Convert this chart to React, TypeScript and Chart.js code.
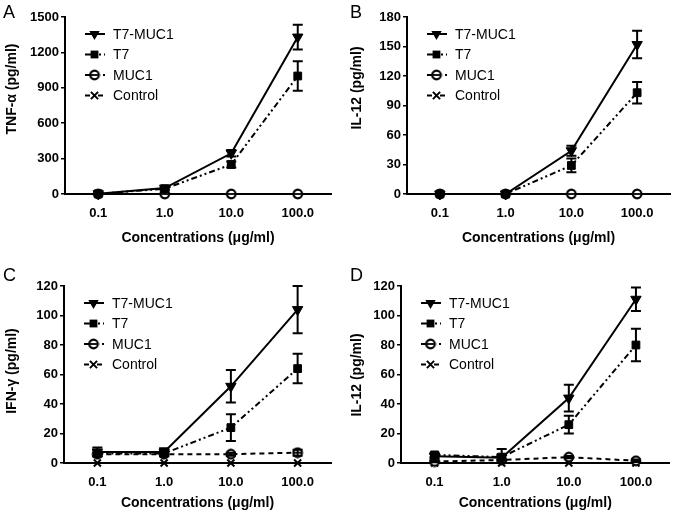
import React, { useEffect, useRef } from 'react';
import { Chart, registerables } from 'chart.js';

Chart.register(...registerables);

const FONT = '"Liberation Sans", Arial, Helvetica, sans-serif';

const categories = ['0.1', '1.0', '10.0', '100.0'];
const seriesNames = ['T7-MUC1', 'T7', 'MUC1', 'Control'];
const xTitle = 'Concentrations (μg/ml)';

// Panel A: TNF-α
const tnfYTicks = [0, 300, 600, 900, 1200, 1500];
const tnfT7Muc1 = [2, 50, 345, 1330];
const tnfT7Muc1Err = [0, 12, 28, 105];
const tnfT7 = [2, 45, 250, 1000];
const tnfT7Err = [0, 10, 25, 125];
const tnfMuc1 = [0, 0, 0, 0];
const tnfMuc1Err = [0, 0, 0, 0];
const tnfControl = [0, 0, 0, 0];
const tnfControlErr = [0, 0, 0, 0];

// Panel B: IL-12
const il12bYTicks = [0, 30, 60, 90, 120, 150, 180];
const il12bT7Muc1 = [0, 0, 44, 152];
const il12bT7Muc1Err = [0, 0, 5, 14];
const il12bT7 = [0, 0, 29, 103];
const il12bT7Err = [0, 0, 7, 11];
const il12bMuc1 = [0, 0, 0, 0];
const il12bMuc1Err = [0, 0, 0, 0];
const il12bControl = [0, 0, 0, 0];
const il12bControlErr = [0, 0, 0, 0];

// Panel C: IFN-γ
const ifnYTicks = [0, 20, 40, 60, 80, 100, 120];
const ifnT7Muc1 = [7.5, 7.5, 52, 104];
const ifnT7Muc1Err = [3, 2.5, 11, 16];
const ifnT7 = [6.5, 6.5, 24, 64];
const ifnT7Err = [2, 2, 9, 10];
const ifnMuc1 = [6, 6, 6, 7];
const ifnMuc1Err = [1, 1, 1, 2];
const ifnControl = [0, 0, 0, 0];
const ifnControlErr = [0, 0, 0, 0];

// Panel D: IL-12
const il12dYTicks = [0, 20, 40, 60, 80, 100, 120];
const il12dT7Muc1 = [4.5, 3.5, 44, 111];
const il12dT7Muc1Err = [1.5, 6, 9, 8];
const il12dT7 = [5.5, 4, 26, 80];
const il12dT7Err = [1.5, 2, 6, 11];
const il12dMuc1 = [1, 2, 4, 1.5];
const il12dMuc1Err = [0.5, 0.5, 0.8, 0.8];
const il12dControl = [0, 0, 0, 0];
const il12dControlErr = [0, 0, 0, 0];

const dashes = [[], [6, 3, 2, 3, 2, 3], [5, 4], [5, 3, 2, 3]];

type Panel = {
  key: string;
  x: number; y: number; w: number; h: number;
  left: number; right: number; top: number; bottom: number;
  yTitle: string; yTitleX: number; yTitleY: number;
  xTitlePad: number; letterX: number; letterY: number;
  yTicks: number[];
  series: [number[], number[]][];
};

const panels: Panel[] = [
  {
    key: 'A', x: 0, y: 0, w: 338, h: 256, left: 65, right: 333, top: 17, bottom: 194,
    yTitle: 'TNF-α (pg/ml)', yTitleX: 12, yTitleY: 89, xTitlePad: 9, letterX: 3, letterY: 18,
    yTicks: tnfYTicks,
    series: [[tnfT7Muc1, tnfT7Muc1Err], [tnfT7, tnfT7Err], [tnfMuc1, tnfMuc1Err], [tnfControl, tnfControlErr]],
  },
  {
    key: 'B', x: 338, y: 0, w: 339, h: 256, left: 69, right: 333, top: 17, bottom: 194,
    yTitle: 'IL-12 (pg/ml)', yTitleX: 19, yTitleY: 88, xTitlePad: 9, letterX: 12, letterY: 18,
    yTicks: il12bYTicks,
    series: [[il12bT7Muc1, il12bT7Muc1Err], [il12bT7, il12bT7Err], [il12bMuc1, il12bMuc1Err], [il12bControl, il12bControlErr]],
  },
  {
    key: 'C', x: 0, y: 256, w: 338, h: 256, left: 64, right: 331.5, top: 30, bottom: 207,
    yTitle: 'IFN-γ (pg/ml)', yTitleX: 12, yTitleY: 115, xTitlePad: 0, letterX: 3, letterY: 25,
    yTicks: ifnYTicks,
    series: [[ifnT7Muc1, ifnT7Muc1Err], [ifnT7, ifnT7Err], [ifnMuc1, ifnMuc1Err], [ifnControl, ifnControlErr]],
  },
  {
    key: 'D', x: 338, y: 256, w: 339, h: 256, left: 63, right: 331.5, top: 30, bottom: 207,
    yTitle: 'IL-12 (pg/ml)', yTitleX: 19, yTitleY: 119, xTitlePad: 0, letterX: 12, letterY: 25,
    yTicks: il12dYTicks,
    series: [[il12dT7Muc1, il12dT7Muc1Err], [il12dT7, il12dT7Err], [il12dMuc1, il12dMuc1Err], [il12dControl, il12dControlErr]],
  },
];

function makeTheta(): HTMLCanvasElement {
  const c = document.createElement('canvas');
  c.width = 12;
  c.height = 12;
  const ctx = c.getContext('2d')!;
  ctx.fillStyle = '#fff';
  ctx.strokeStyle = '#000';
  ctx.lineWidth = 2.2;
  ctx.beginPath();
  ctx.arc(6, 6, 4.3, 0, Math.PI * 2);
  ctx.fill();
  ctx.stroke();
  ctx.lineWidth = 1.8;
  ctx.beginPath();
  ctx.moveTo(2.5, 6);
  ctx.lineTo(9.5, 6);
  ctx.stroke();
  return c;
}

function drawMarker(ctx: CanvasRenderingContext2D, idx: number, x: number, y: number, theta: HTMLCanvasElement) {
  ctx.save();
  ctx.fillStyle = '#000';
  ctx.strokeStyle = '#000';
  ctx.setLineDash([]);
  if (idx === 0) {
    const r = 6;
    ctx.beginPath();
    for (let k = 0; k < 3; k++) {
      const a = Math.PI + (k * 2 * Math.PI) / 3;
      const px = x + Math.sin(a) * r;
      const py = y - Math.cos(a) * r;
      if (k === 0) ctx.moveTo(px, py); else ctx.lineTo(px, py);
    }
    ctx.closePath();
    ctx.fill();
  } else if (idx === 1) {
    ctx.fillRect(x - 3.9, y - 3.9, 7.8, 7.8);
  } else if (idx === 2) {
    ctx.drawImage(theta, x - theta.width / 2, y - theta.height / 2);
  } else {
    const s = 3.6;
    ctx.lineWidth = 2;
    ctx.beginPath();
    ctx.moveTo(x - s, y - s); ctx.lineTo(x + s, y + s);
    ctx.moveTo(x + s, y - s); ctx.lineTo(x - s, y + s);
    ctx.stroke();
  }
  ctx.restore();
}

function PanelChart({ p }: { p: Panel }) {
  const ref = useRef<HTMLCanvasElement | null>(null);
  useEffect(() => {
    if (!ref.current) return;
    const theta = makeTheta();
    const styles: any[] = ['triangle', 'rect', theta, 'crossRot'];
    const radii = [6, 5.5, 5, 5];
    const rotations = [180, 0, 0, 0];
    const borderWidths = [1, 1, 1, 2];

    const errorBars = {
      id: 'errorBars',
      afterDatasetsDraw(chart: any) {
        const ctx = chart.ctx as CanvasRenderingContext2D;
        const ys = chart.scales.y;
        ctx.save();
        ctx.strokeStyle = '#000';
        ctx.lineWidth = 2;
        ctx.setLineDash([]);
        chart.data.datasets.forEach((ds: any, i: number) => {
          const meta = chart.getDatasetMeta(i);
          (ds.errors as number[]).forEach((e: number, j: number) => {
            if (!e) return;
            const v = ds.data[j] as number;
            const px = meta.data[j].x;
            const t = ys.getPixelForValue(v + e);
            const b = ys.getPixelForValue(Math.max(v - e, 0));
            ctx.beginPath();
            ctx.moveTo(px, t); ctx.lineTo(px, b);
            ctx.moveTo(px - 5, t); ctx.lineTo(px + 5, t);
            ctx.moveTo(px - 5, b); ctx.lineTo(px + 5, b);
            ctx.stroke();
          });
        });
        ctx.restore();
      },
    };

    const decor = {
      id: 'decor',
      afterDraw(chart: any) {
        const ctx = chart.ctx as CanvasRenderingContext2D;
        const area = chart.chartArea;
        ctx.save();
        ctx.fillStyle = '#000';
        ctx.font = `18px ${FONT}`;
        ctx.textAlign = 'left';
        ctx.textBaseline = 'alphabetic';
        ctx.fillText(p.key, p.letterX, p.letterY);
        ctx.save();
        ctx.translate(p.yTitleX, p.yTitleY);
        ctx.rotate(-Math.PI / 2);
        ctx.font = `bold 14px ${FONT}`;
        ctx.textAlign = 'center';
        ctx.textBaseline = 'middle';
        ctx.fillText(p.yTitle, 0, 0);
        ctx.restore();
        chart.data.datasets.forEach((ds: any, i: number) => {
          const y = area.top + 17 + i * 20.5;
          const x0 = area.left + 20;
          ctx.save();
          ctx.strokeStyle = '#000';
          ctx.lineWidth = 2;
          ctx.setLineDash(dashes[i]);
          ctx.beginPath();
          ctx.moveTo(x0, y);
          ctx.lineTo(x0 + 20, y);
          ctx.stroke();
          ctx.restore();
          drawMarker(ctx, i, x0 + 9.5, y, theta);
          ctx.font = `14px ${FONT}`;
          ctx.textAlign = 'left';
          ctx.textBaseline = 'middle';
          ctx.fillStyle = '#000';
          ctx.fillText(ds.label, area.left + 48, y + 1);
        });
        ctx.restore();
      },
    };

    const tickFont = { family: FONT, size: 13, weight: 'bold' as const };
    const chart = new Chart(ref.current, {
      type: 'line',
      data: {
        labels: categories,
        datasets: seriesNames.map((name, i) => ({
          label: name,
          data: p.series[i][0],
          errors: p.series[i][1],
          borderColor: '#000',
          backgroundColor: '#000',
          borderWidth: 2,
          borderDash: dashes[i],
          pointStyle: styles[i],
          pointRadius: radii[i],
          pointRotation: rotations[i],
          pointBorderWidth: borderWidths[i],
          pointBackgroundColor: '#000',
          pointBorderColor: '#000',
          tension: 0,
          fill: false,
          clip: false,
        })) as any,
      },
      options: {
        animation: false,
        responsive: false,
        maintainAspectRatio: false,
        events: [],
        layout: { padding: { left: 0, top: p.top, right: p.w - p.right, bottom: 0 } },
        plugins: { legend: { display: false }, tooltip: { enabled: false } },
        scales: {
          x: {
            type: 'category',
            offset: true,
            grid: { display: false, drawTicks: false },
            border: { display: true, color: '#000', width: 2 },
            ticks: { color: '#000', font: tickFont, padding: 12, maxRotation: 0, autoSkip: false },
            title: {
              display: true,
              text: xTitle,
              color: '#000',
              font: { family: FONT, size: 14, weight: 'bold' },
              padding: { top: 0, bottom: p.xTitlePad },
            },
            afterFit: (s: any) => { s.height = p.h - p.bottom; },
          },
          y: {
            min: p.yTicks[0],
            max: p.yTicks[p.yTicks.length - 1],
            grid: { display: true, drawOnChartArea: false, drawTicks: true, tickLength: 4, color: '#000', lineWidth: 1.5 },
            border: { display: true, color: '#000', width: 2 },
            ticks: { color: '#000', font: tickFont, padding: 2, callback: (v: any) => String(v) },
            afterBuildTicks: (s: any) => { s.ticks = p.yTicks.map((v) => ({ value: v })); },
            afterFit: (s: any) => { s.width = p.left; },
          },
        },
      } as any,
      plugins: [errorBars, decor],
    });
    return () => chart.destroy();
  }, [p]);

  return (
    <div style={{ position: 'absolute', left: p.x, top: p.y, width: p.w, height: p.h }}>
      <canvas ref={ref} width={p.w} height={p.h} style={{ display: 'block', width: p.w, height: p.h }} />
    </div>
  );
}

export default function App() {
  return (
    <div style={{ position: 'absolute', left: 0, top: 0, width: 677, height: 512, background: '#fff' }}>
      {panels.map((p) => (
        <PanelChart key={p.key} p={p} />
      ))}
    </div>
  );
}
